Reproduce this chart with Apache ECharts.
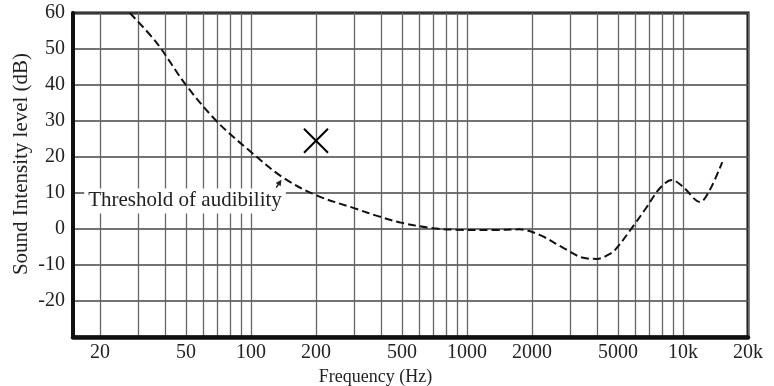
<!DOCTYPE html>
<html>
<head>
<meta charset="utf-8">
<script src="https://cdn.jsdelivr.net/npm/echarts@6/dist/echarts.min.js"></script>
<style>
  html, body { margin: 0; padding: 0; background: #fff; }
  #chart { width: 774px; height: 386px; }
</style>
</head>
<body>
<div id="chart"></div>
<script>
// threshold of audibility
const freqs = [27.5, 36.6, 50, 70, 100, 140, 200, 300, 400, 500, 700, 900, 1300, 1750, 2180, 2800, 3450, 4000, 4500, 4850, 5850, 6800, 7830, 8900, 10000, 12000, 13300, 15200];
const levels = [60, 51.7, 40, 29.7, 21.4, 14.4, 9.4, 5.8, 3.3, 1.7, 0.2, -0.2, -0.3, -0.1, -1.7, -5.3, -8, -8.3, -7.2, -5.8, 0.6, 6.1, 11.4, 13.6, 11.7, 7.5, 10.8, 18.6];

// the cross marker
const crossPoint = [200, 24.5];

// axis ticks
const xLabelValues = [20, 50, 100, 200, 500, 1000, 2000, 5000, 10000, 20000];
const xGridValues = [20, 30, 40, 50, 60, 70, 80, 90,
  100, 200, 300, 400, 500, 600, 700, 800, 900,
  1000, 2000, 3000, 4000, 5000, 6000, 7000, 8000, 9000,
  10000, 20000];

const font = 'Liberation Serif';
const chart = echarts.init(document.getElementById('chart'));

chart.setOption({
  animation: false,
  backgroundColor: '#fff',
  grid: {
    left: 73, right: 26, top: 13, bottom: 49,
    outerBoundsMode: 'none',
    containLabel: false,
    show: true, borderColor: '#111', borderWidth: 3
  },
  xAxis: {
    type: 'log',
    logBase: 10,
    min: 15,
    max: 20000,
    name: 'Frequency (Hz)',
    nameLocation: 'middle',
    nameGap: 29,
    nameTextStyle: { fontFamily: font, fontSize: 18, color: '#222', padding: [0, 70, 0, 0] },
    axisLine: { onZero: false, lineStyle: { color: '#111', width: 4.5 } },
    axisTick: { show: false, customValues: xGridValues },
    axisLabel: {
      customValues: xLabelValues,
      margin: 6,
      fontFamily: font, fontSize: 20, color: '#222',
      formatter: v => v >= 10000 ? (v / 1000) + 'k' : String(v)
    },
    splitLine: { show: true, lineStyle: { color: '#666', width: 1.3 } }
  },
  yAxis: {
    type: 'value',
    min: -30,
    max: 60,
    interval: 10,
    name: 'Sound Intensity level (dB)',
    nameLocation: 'middle',
    nameMoveOverlap: false,
    nameGap: 41,
    nameTextStyle: { fontFamily: font, fontSize: 21, color: '#222', padding: [0, 0, 0, 22] },
    axisLine: { show: true, onZero: false, lineStyle: { color: '#111', width: 4 } },
    axisTick: { show: false },
    axisLabel: {
      margin: 8,
      fontFamily: font, fontSize: 20, color: '#222',
      formatter: v => v === -30 ? '' : String(v)
    },
    splitLine: { show: true, lineStyle: { color: '#444', width: 1.5 } }
  },
  series: [
    {
      type: 'line',
      data: freqs.map((f, i) => [f, levels[i]]),
      smooth: 0.35,
      symbol: 'none',
      lineStyle: { color: '#111', width: 2, type: [8, 4] },
      markPoint: {
        symbol: 'rect',
        symbolSize: 1,
        itemStyle: { color: 'transparent' },
        data: [{
          coord: [49.5, 7.8],
          label: {
            show: true,
            formatter: 'Threshold of audibility',
            fontFamily: font, fontSize: 21, color: '#222',
            backgroundColor: '#fff',
            padding: [2, 4]
          }
        }]
      },
      markLine: {
        silent: true,
        symbol: ['none', 'triangle'],
        symbolSize: 6,
        label: { show: false },
        lineStyle: { color: '#222', width: 1.5, type: 'solid' },
        data: [[{ coord: [131, 11.5] }, { coord: [136, 13] }]]
      }
    },
    {
      type: 'scatter',
      data: [crossPoint],
      symbol: 'path://M0,0L20,20M20,0L0,20',
      symbolSize: 24,
      itemStyle: { color: 'transparent', borderColor: '#000', borderWidth: 2, opacity: 1 }
    }
  ]
});
</script>
</body>
</html>
